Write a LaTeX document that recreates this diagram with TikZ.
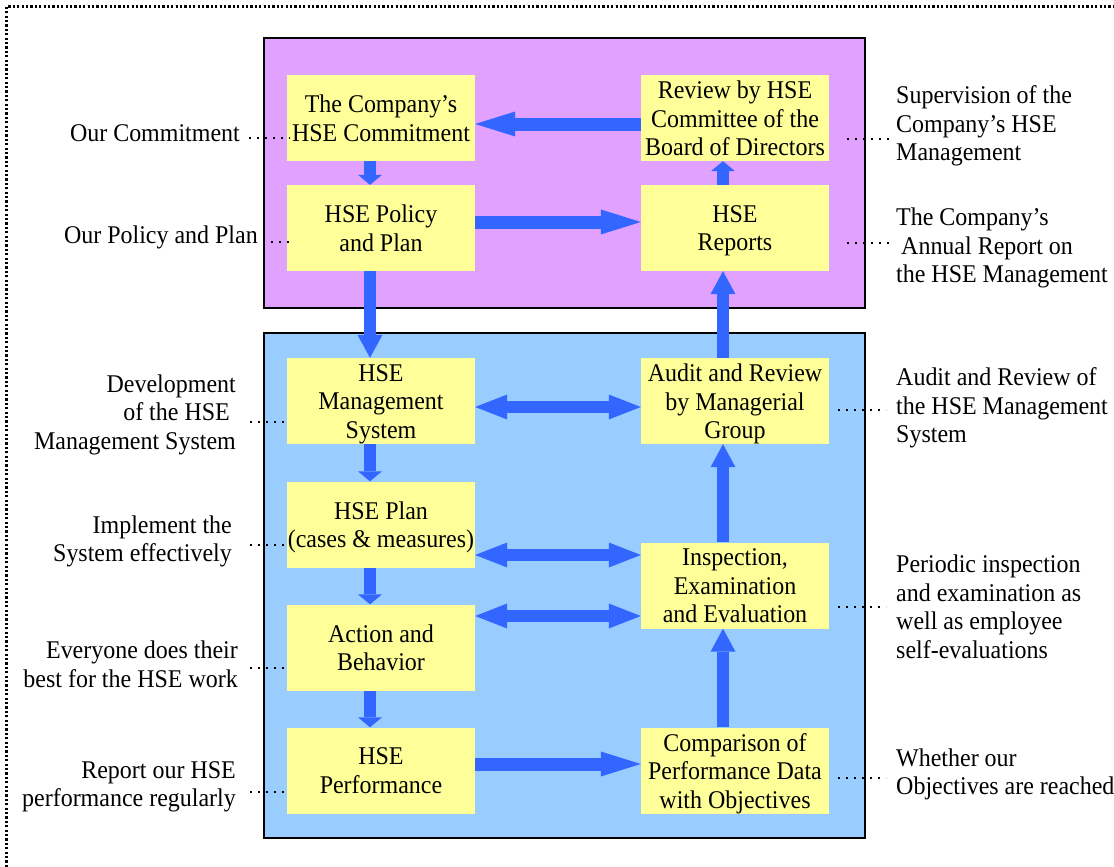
\documentclass[tikz,border=0pt]{standalone}
\usepackage{fontspec}
\setmainfont{Liberation Serif}[FakeStretch=0.94]
\usetikzlibrary{arrows.meta,calc}
\definecolor{purp}{RGB}{224,161,255}
\definecolor{lblue}{RGB}{153,204,255}
\definecolor{yel}{RGB}{255,255,153}
\definecolor{arr}{RGB}{51,102,255}
\tikzset{
  txt/.style={font=\fontsize{25.5}{28.5}\selectfont},
  box/.style={fill=yel, minimum width=188pt, minimum height=86pt, inner sep=0pt},
  boxtext/.style={txt, align=center, inner sep=0pt, yshift=-4.5pt,
    execute at begin node=\strut, execute at end node=\strut},
  lablft/.style={txt, anchor=east, align=right, inner sep=0pt},
  labrgt/.style={txt, anchor=west, align=left, inner sep=0pt},
  leader/.style={line width=1.6pt, dash pattern=on 1.6pt off 6.4pt},
  border/.style={line width=2.5pt, dash pattern=on 2.2pt off 2.2pt},
  frame/.style={line width=2.5pt, draw=black},
  hsingle/.style={draw=arr, line width=13pt, -{Triangle[width=25pt,length=40pt,line width=0pt]}},
  hdouble/.style={draw=arr, line width=12.5pt, {Triangle[width=25pt,length=32pt,line width=0pt]}-{Triangle[width=25pt,length=32pt,line width=0pt]}},
  vsmall/.style={draw=arr, line width=12pt, -{Triangle[width=24pt,length=10pt,line width=0pt]}},
  vbig/.style={draw=arr, line width=12.5pt, -{Triangle[width=25pt,length=23pt,line width=0pt]}},
}
\begin{document}
\begin{tikzpicture}[x=1pt,y=-1pt]
\useasboundingbox (0,0) rectangle (1114,867);
\fill[white] (0,0) rectangle (1114,867);
% dotted outer frame (runs off right and bottom)
\draw[border] (6.5,867) -- (6.5,6.5) -- (1114,6.5);
% big panels
\filldraw[fill=purp, frame] (264,38) rectangle (865,308);
\filldraw[fill=lblue, frame] (264,333) rectangle (865,838);
% boxes
\node[box, label={[boxtext]center:{The Company’s\\HSE Commitment}}] (b1) at (381,118) {};
\node[box, label={[boxtext]center:{HSE Policy\\and Plan}}] (b2) at (381,228) {};
\node[box, label={[boxtext]center:{HSE\\Management\\System}}] (b3) at (381,401) {};
\node[box, label={[boxtext]center:{HSE Plan\\(cases \& measures)}}] (b4) at (381,524.5) {};
\node[box, label={[boxtext]center:{Action and\\Behavior}}] (b5) at (381,647.5) {};
\node[box, label={[boxtext]center:{HSE\\Performance}}] (b6) at (381,770.5) {};
\node[box, label={[boxtext]center:{Review by HSE\\Committee of the\\Board of Directors}}] (c1) at (735,118) {};
\node[box, label={[boxtext]center:{HSE\\Reports}}] (c2) at (735,228) {};
\node[box, label={[boxtext]center:{Audit and Review\\by Managerial\\Group}}] (c3) at (735,401) {};
\node[box, label={[boxtext]center:{Inspection,\\Examination\\and Evaluation}}] (c4) at (735,585.5) {};
\node[box, label={[boxtext]center:{Comparison of\\Performance Data\\with Objectives}}] (c5) at (735,770.5) {};
% helper coordinates
\coordinate (xl) at (370,0);
\coordinate (xr) at (723,0);
\coordinate (h1) at (0,124);
\coordinate (h2) at (0,222);
\coordinate (h3) at (0,407);
\coordinate (h4) at (0,555);
\coordinate (h5) at (0,616);
\coordinate (h6) at (0,764);
% vertical arrows
\draw[vsmall] (b1.south -| xl) -- (b2.north -| xl);
\draw[vbig] (b2.south -| xl) -- (b3.north -| xl);
\draw[vsmall] (b3.south -| xl) -- (b4.north -| xl);
\draw[vsmall] (b4.south -| xl) -- (b5.north -| xl);
\draw[vsmall] (b5.south -| xl) -- (b6.north -| xl);
\draw[vsmall] (c2.north -| xr) -- (c1.south -| xr);
\draw[vbig] (c3.north -| xr) -- (c2.south -| xr);
\draw[vbig] (c4.north -| xr) -- (c3.south -| xr);
\draw[vbig] (c5.north -| xr) -- (c4.south -| xr);
% horizontal arrows
\draw[hsingle] (c1.west |- h1) -- (b1.east |- h1);
\draw[hsingle] (b2.east |- h2) -- (c2.west |- h2);
\draw[hdouble] (b3.east |- h3) -- (c3.west |- h3);
\draw[hdouble] (b4.east |- h4) -- (c4.west |- h4);
\draw[hdouble] (b5.east |- h5) -- (c4.west |- h5);
\draw[hsingle] (b6.east |- h6) -- (c5.west |- h6);
% left labels
\node[lablft] (l1) at (240,133) {Our Commitment};
\node[lablft] (l2) at (258,237) {Our Policy and Plan};
\node[lablft] (l3) at (236,414.5) {Development\\of the HSE\kern6pt\\Management System};
\node[lablft] (l4) at (232,541.5) {Implement the\\System effectively};
\node[lablft] (l5) at (238,664.5) {Everyone does their\\best for the HSE work};
\node[lablft] (l6) at (236,787) {Report our HSE\\performance regularly};
% right labels
\node[labrgt] (r1) at (896,126) {Supervision of the\\Company’s HSE\\Management};
\node[labrgt] (r2) at (896,248) {The Company’s\\\hspace*{5pt}Annual Report on\\the HSE Management};
\node[labrgt] (r3) at (896,408) {Audit and Review of\\the HSE Management\\System};
\node[labrgt] (r4) at (896,607) {Periodic inspection\\and examination as\\well as employee\\self-evaluations};
\node[labrgt] (r5) at (896,774.5) {Whether our\\Objectives are reached};
% leader coordinates
\coordinate (p1) at (249,138);
\coordinate (p2) at (263,242);
\coordinate (p3) at (250,422);
\coordinate (p4) at (250,545);
\coordinate (p5) at (250,668);
\coordinate (p6) at (250,792);
\coordinate (q1) at (847,139);
\coordinate (q2) at (847,243);
\coordinate (q3) at (838,410);
\coordinate (q4) at (838,607);
\coordinate (q5) at (838,778);
% leaders
\draw[leader] (p1) -- ([xshift=3pt]p1 -| b1.west);
\draw[leader] (p2) -- ([xshift=3pt]p2 -| b2.west);
\draw[leader] (p3) -- ([xshift=3pt]p3 -| b3.west);
\draw[leader] (p4) -- ([xshift=3pt]p4 -| b4.west);
\draw[leader] (p5) -- ([xshift=3pt]p5 -| b5.west);
\draw[leader] (p6) -- ([xshift=3pt]p6 -| b6.west);
\draw[leader] (q1) -- ([xshift=-6pt]q1 -| r1.west);
\draw[leader] (q2) -- ([xshift=-6pt]q2 -| r2.west);
\draw[leader] (q3) -- ([xshift=-10pt]q3 -| r3.west);
\draw[leader] (q4) -- ([xshift=-10pt]q4 -| r4.west);
\draw[leader] (q5) -- ([xshift=-10pt]q5 -| r5.west);
\end{tikzpicture}
\end{document}
